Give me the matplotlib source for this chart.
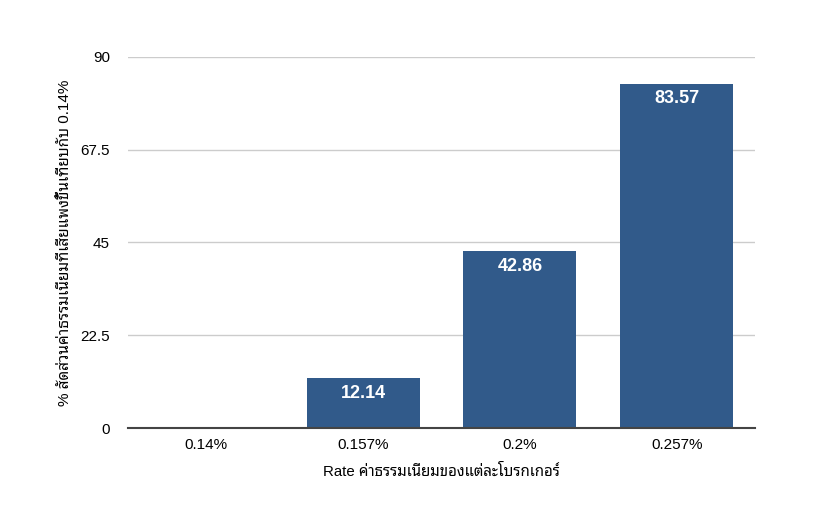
import matplotlib
matplotlib.use('Agg')
import matplotlib.pyplot as plt
import numpy as np

plt.rcParams['font.family'] = ['Liberation Sans', 'Noto Sans Thai Looped', 'DejaVu Sans']

categories = ["0.14%", "0.157%", "0.2%", "0.257%"]
values = [0, 12.14, 42.86, 83.57]
labels = ["", "12.14", "42.86", "83.57"]
yticks = [0, 22.5, 45, 67.5, 90]
ytick_labels = ["0", "22.5", "45", "67.5", "90"]
xlabel = "Rate ค่าธรรมเนียมของแต่ละโบรกเกอร์"
ylabel = "% สัดส่วนค่าธรรมเนียมที่เสียแพงขึ้นเทียบกับ 0.14%"

fig = plt.figure(figsize=(8.32, 5.29), dpi=100)
ax = fig.add_axes([128/832, 1-428/529, (755-128)/832, (428-57)/529])

x = np.arange(len(categories))
bars = ax.bar(x, values, width=0.72, color="#315a8a", zorder=2)

# value labels inside the top of each bar
for b, lab in zip(bars, labels):
    if lab:
        ax.annotate(lab, (b.get_x() + b.get_width()/2, b.get_height()),
                    xytext=(0, -11), textcoords="offset points",
                    ha="center", va="center", color="white",
                    fontsize=13, fontweight="bold")

ax.set_xlim(-0.5, len(categories) - 0.5)
ax.set_ylim(0, 90)
ax.set_yticks(yticks)
ax.set_yticklabels(ytick_labels)
ax.set_xticks(x)
ax.set_xticklabels(categories)
ax.tick_params(axis="y", length=0, pad=13, labelsize=11)
ax.tick_params(axis="x", length=0, pad=7, labelsize=11)
ax.grid(axis="y", color="#cccccc", linewidth=1, zorder=0)
for s in ["top", "right", "left"]:
    ax.spines[s].set_visible(False)
ax.spines["bottom"].set_color("#444444")
ax.spines["bottom"].set_linewidth(1.5)
ax.spines["bottom"].set_zorder(3)

ax.set_xlabel(xlabel, fontsize=10.8, labelpad=9)
ax.set_ylabel(ylabel, fontsize=11, labelpad=6)

fig.savefig("out.png")
